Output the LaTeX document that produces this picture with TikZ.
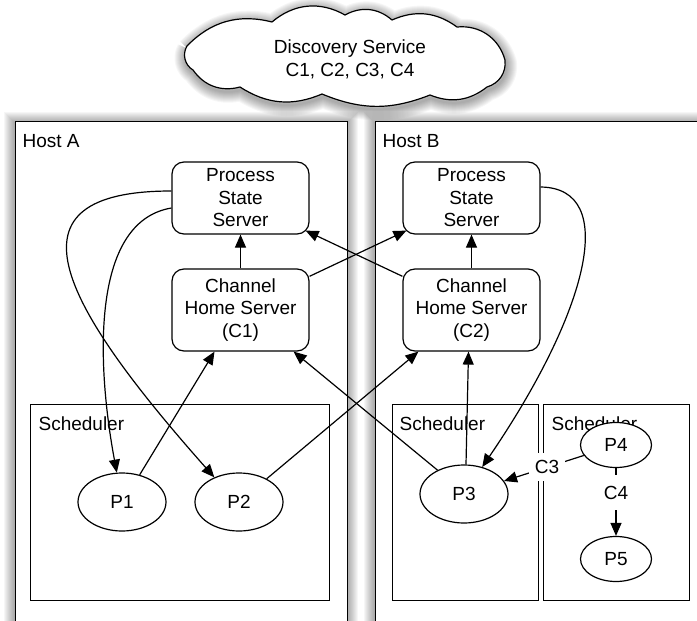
\documentclass[tikz,border=0pt]{standalone}
\usepackage{fontspec}
\setmainfont{Liberation Sans}
\usetikzlibrary{shapes.geometric,arrows.meta,calc}
\newcommand\dscloud{(187,46) to[bend left=30] (272,22) to[bend left=35] (345,15) to[bend left=35] (392,20)
  to[bend left=30] (457,27) to[bend left=40] (505,60) to[bend left=40] (487,87) to[bend left=30] (430,95)
  to[bend left=22] (322,94) to[bend left=28] (240,87) to[bend left=35] (193,70) to[bend left=45] (187,46)}
\begin{document}
\begin{tikzpicture}[x=1pt,y=-1pt,line width=1.2pt,
  every node/.style={font=\fontsize{19}{22.5}\selectfont},
  rbox/.style={draw,rounded corners=12pt,minimum width=137pt,inner sep=0pt,align=center,fill=white},
  proc/.style={draw,ellipse,minimum width=88pt,minimum height=58pt,inner sep=0pt,fill=white},
  sproc/.style={draw,ellipse,minimum width=71pt,minimum height=45pt,inner sep=0pt,fill=white},
  arr/.style={-{Triangle[length=13pt,width=11pt]}},
  lbl/.style={fill=white,inner xsep=6pt},
  glow/.style={draw=black,opacity=0.035,line width=#1},
  hostbox/.style={draw,fill=white,anchor=north west,inner sep=0pt},
  schedbox/.style={draw,anchor=north west,inner sep=0pt,minimum height=196pt},
  title/.style={anchor=base west,inner sep=0pt}]
\path[use as bounding box] (0,0) rectangle (697,621);
\clip (0,0) rectangle (697,621);
% soft shadows
\foreach \w in {2,4,...,22}{
  \path[glow=\w pt] (15,123) rectangle (347,661);
  \path[glow=\w pt] (375,123) rectangle (720,661);
  \path[glow=\w pt,line join=round,yshift=-3pt,xshift=1pt] \dscloud;
}
% hosts
\node[hostbox,minimum width=332pt,minimum height=540pt] (hostA) at (15,121) {};
\node[hostbox,minimum width=345pt,minimum height=540pt] (hostB) at (375,121) {};
\node[title] (labA) at (22,147) {Host A};
\node[title] (labB) at (382,147) {Host B};
% cloud
\draw[fill=white,line join=round] \dscloud;
\node[align=center,inner sep=0pt] (ds) at (350,59.5) {Discovery Service\\C1, C2, C3, C4};
% schedulers
\node[schedbox,minimum width=299pt] (schA) at (30,404) {};
\node[schedbox,minimum width=146pt] (schB) at (392,404) {};
\node[schedbox,minimum width=146pt] (schC) at (543,404) {};
\node[title] (labSA) at (38,430) {Scheduler};
\node[title] (labSB) at (399,430) {Scheduler};
\node[title] (labSC) at (551,430) {Scheduler};
% servers
\node[rbox,minimum height=72pt] (pssA) at (240.5,198) {Process\\State\\Server};
\node[rbox,minimum height=82pt] (chsA) at (240.5,310) {Channel\\Home Server\\(C1)};
\node[rbox,minimum height=72pt] (pssB) at (471.5,198) {Process\\State\\Server};
\node[rbox,minimum height=82pt] (chsB) at (471.5,310) {Channel\\Home Server\\(C2)};
% processes
\node[proc] (p1) at (122,502) {P1};
\node[proc] (p2) at (239,502) {P2};
\node[proc] (p3) at (464,494) {P3};
\node[sproc] (p4) at (616,445) {P4};
\node[sproc] (p5) at (616,559) {P5};
% connectors
\draw[arr] (chsA) -- (pssA);
\draw[arr] (chsB) -- (pssB);
\draw[arr] (chsA.26) -- ($(pssB.south west)+(4,-4)$);
\draw[arr] (chsB.154) -- ($(pssA.south east)+(-4,-4)$);
\draw[arr] ($(pssA.west)+(0,-7)$) .. controls (0,191) and (58,301) .. (p2.135);
\draw[arr] ($(pssA.west)+(0,10)$) .. controls (88,222) and (98,372) .. (p1.100);
\draw[arr] (p1.57) -- ($(chsA.south)+(-26,0)$);
\draw[arr] (p2.40) -- ($(chsB.south west)+(16,0)$);
\draw[arr] (p3.138) -- ($(chsA.south east)+(-16,0)$);
\draw[arr] ($(p3.north)+(2,0)$) -- ($(chsB.south)+(-3,0)$);
\draw[arr] ($(pssB.east)+(0,-11)$) .. controls (620,188) and (588,312) .. (p3.56);
\draw[arr] (p4.198) -- node[lbl,pos=0.46,inner ysep=7pt] (c3) {C3} (p3.18);
\draw[arr] (p4) -- node[lbl,pos=0.36,inner ysep=11pt] (c4) {C4} (p5);
\end{tikzpicture}
\end{document}
